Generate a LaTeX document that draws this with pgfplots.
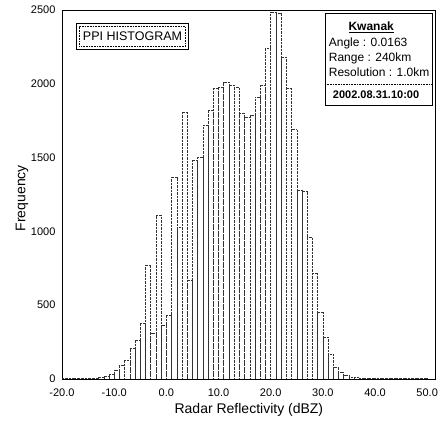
\documentclass[border=0pt]{standalone}
\usepackage{pgfplots}
\pgfplotsset{compat=1.18}
\usepackage{fontspec}
\setmainfont{Liberation Sans}
\begin{document}
\begin{tikzpicture}
\begin{axis}[
  scale only axis, width=373pt, height=369pt,
  xmin=-20, xmax=51.5, ymin=0, ymax=2500,
  xtick={-20,-10,...,50},
  ytick={0,500,...,2500},
  major tick length=0pt,
  axis line style={line width=0.6pt},
  /pgf/number format/assume math mode=true,
  xticklabel={\pgfmathprintnumber[fixed,fixed zerofill,precision=1]{\tick}},
  yticklabel={\pgfmathprintnumber[fixed,precision=0,1000 sep={}]{\tick}},
  xticklabel style={font=\fontsize{11}{12}\selectfont, yshift=-6pt},
  yticklabel style={font=\fontsize{11}{12}\selectfont, xshift=-3pt},
  xlabel={Radar Reflectivity (dBZ)},
  ylabel={Frequency},
  every axis x label/.append style={at={(axis description cs:0.501,-0.084)}, anchor=center, font=\fontsize{14}{16}\selectfont},
  every axis y label/.append style={at={(axis description cs:-0.107,0.49)}, anchor=center, font=\fontsize{14}{16}\selectfont},
  clip=true,
]
\addplot[ybar interval, fill=white, draw=black!80, line width=0.45pt, dash pattern=on 0.9pt off 0.5pt] coordinates {
(-20,2) (-19,3) (-18,3) (-17,4) (-16,5) (-15,6) (-14,8) (-13,15) (-12,20) (-11,30)
(-10,61) (-9,95) (-8,130) (-7,210) (-6,264) (-5,379) (-4,772) (-3,311) (-2,1111) (-1,366)
(0,434) (1,1369) (2,1030) (3,1809) (4,670) (5,1484) (6,1504) (7,1720) (8,1822) (9,1971)
(10,1980) (11,2012) (12,1992) (13,1975) (14,1800) (15,1775) (16,1790) (17,1910) (18,1990) (19,2240)
(20,2487) (21,2480) (22,2180) (23,1970) (24,1690) (25,1280) (26,1270) (27,960) (28,718) (29,450)
(30,285) (31,165) (32,80) (33,47) (34,27) (35,15) (36,10) (37,8) (38,6) (39,5)
(40,5) (41,4) (42,4) (43,4) (44,3) (45,3) (46,3) (47,3) (48,3) (49,3) (50,3)
};
% PPI HISTOGRAM box
\node[draw=black, dash pattern=on 0.8pt off 0.8pt, minimum width=106pt, minimum height=20pt, inner sep=0pt,
      font=\fontsize{12.5}{14}\selectfont] (ppi) at (rel axis cs:0.189,0.928) {PPI HISTOGRAM};
\draw[line width=0.6pt] ([shift={(-3pt,-3pt)}]ppi.south west) rectangle ([shift={(3pt,3pt)}]ppi.north east);
% info box
\draw[line width=0.7pt] (rel axis cs:0.705,0.992) rectangle (rel axis cs:0.992,0.7425);
\draw[dash pattern=on 0.8pt off 0.8pt] (rel axis cs:0.705,0.7995) -- (rel axis cs:0.992,0.7995);
\node[font=\bfseries\fontsize{12}{13}\selectfont] at (rel axis cs:0.829,0.954) {\underline{Kwanak}};
\node[anchor=west, font=\fontsize{12}{13}\selectfont, inner sep=0pt] at (rel axis cs:0.715,0.910) {Angle : 0.0163};
\node[anchor=west, font=\fontsize{12}{13}\selectfont, inner sep=0pt] at (rel axis cs:0.715,0.870) {Range : 240km};
\node[anchor=west, font=\fontsize{12}{13}\selectfont, inner sep=0pt] at (rel axis cs:0.715,0.832) {Resolution : 1.0km};
\node[font=\bfseries\fontsize{11}{13}\selectfont] at (rel axis cs:0.842,0.7696) {2002.08.31.10:00};
\end{axis}
\path ([shift={(-62pt,-44pt)}]current axis.south west) rectangle ([shift={(8pt,10pt)}]current axis.north east);
\end{tikzpicture}
\end{document}
